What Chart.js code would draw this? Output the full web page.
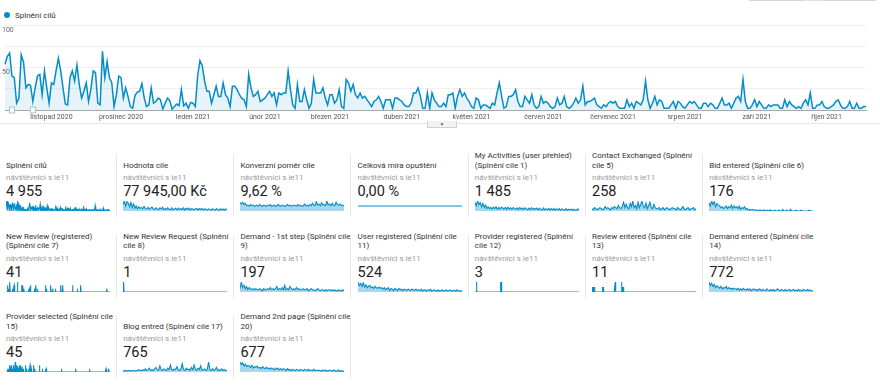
<!DOCTYPE html>
<html>
<head>
<meta charset="utf-8">
<script src="https://cdn.jsdelivr.net/npm/chart.js@4.4.1/dist/chart.umd.min.js"></script>
<style>
  body { margin: 0; width: 880px; height: 389px; overflow: hidden; background: #fff; font-family: Roboto, Arial, sans-serif; color: #222; position: relative; }
  #topbox { position: absolute; left: 748px; top: -19px; width: 129px; height: 20px; border: 1px solid #d6d6d6; border-radius: 2px; box-sizing: border-box; }
  #topbox .seg { position: absolute; left: 55px; top: 0; width: 20px; height: 19px; background: #e2e2e2; }
  #topbox .div { position: absolute; left: 104px; top: 0; width: 1px; height: 19px; background: #d6d6d6; }
  #legend { position: absolute; left: 4px; top: 10px; font-size: 8px; color: #333; line-height: 12px; white-space: nowrap; }
  #legend .dot { display: inline-block; width: 6px; height: 6px; border-radius: 50%; background: #058dc7; margin-right: 5px; vertical-align: 0; }
  #main { position: absolute; left: 0; top: 0; width: 880px; height: 124px; }
  #rule { position: absolute; left: 0; top: 123px; width: 880px; height: 1px; background: #e6e6e6; }
  #tab { position: absolute; left: 427px; top: 121px; width: 30px; height: 7px; background: #f3f3f3; border: 1px solid #d0d0d0; border-top: none; box-sizing: border-box; text-align: center; font-size: 5px; line-height: 6px; color: #666; }
  .tile { position: absolute; width: 111px; height: 66px; }
  .tile .t { position: absolute; left: 0; top: 0; width: 111px; height: 20px; display: flex; flex-direction: column; justify-content: flex-end; font-size: 8px; line-height: 9.5px; color: #333; white-space: nowrap; }
  .tile .s { position: absolute; left: 0; top: 23px; font-size: 8px; line-height: 10px; color: #9a9a9a; white-space: nowrap; }
  .tile .v { position: absolute; left: 0; top: 34px; font-size: 14.5px; line-height: 16px; color: #222; white-space: nowrap; }
  .tile .c { position: absolute; left: 0; top: 50px; width: 104px; height: 12px; }
  .sep { position: absolute; width: 1px; background: #e8e8e8; }
</style>
</head>
<body>
<div id="topbox"><div class="seg"></div><div class="div"></div></div>
<div id="legend"><span class="dot"></span>Splnění cílů</div>
<div id="main"><canvas id="mainChart"></canvas></div>
<div id="rule"></div>
<div id="tab">&#9660;</div>
<div id="tiles"></div>

<script>
// Splnění cílů po dnech (12. 10. 2020 - 18. 10. 2021)
const goalCompletions = [
  54, 63, 67, 40, 38, 8, 14, 65, 56, 26, 30, 29, 10, 26, 40, 42, 18, 46, 26, 8,
  32, 30, 46, 61, 46, 26, 7, 6, 38, 46, 34, 53, 30, 14, 22, 32, 10, 24, 46, 44,
  8, 6, 69, 38, 57, 38, 32, 4, 18, 40, 38, 14, 26, 16, 4, 2, 17, 21, 22, 31,
  14, 4, 6, 26, 8, 10, 14, 12, 1, 8, 14, 11, 1, 4, 7, 5, 24, 5, 8, 2,
  9, 8, 4, 40, 58, 52, 34, 22, 22, 8, 18, 28, 16,
  16, 32, 18, 14, 4, 28, 28, 24, 18, 14, 12, 4, 42, 26, 16, 18, 22, 10, 12, 14,
  18, 22, 16, 20, 6, 20, 18, 20, 20, 46, 24, 6, 2, 30, 10, 10, 24, 12, 2, 8,
  36, 20, 20, 20, 26, 14, 6, 18, 18, 8, 12, 24, 4, 2, 36, 32, 22, 30, 18, 14,
  20, 14, 16, 12, 8, 4, 10, 12, 16, 10, 2, 12, 12, 12, 2, 14, 14, 12, 10, 6,
  4, 4, 8, 20, 20, 26, 16, 2, 2, 20, 2, 20,
  12, 8, 4, 4, 8, 4, 18, 18, 20, 2, 16, 24, 16, 20, 14, 10, 4, 2, 14, 12,
  2, 6, 6, 4, 2, 8, 6, 20, 32, 16, 2, 4, 16, 16, 18, 24, 10, 4, 4, 16,
  12, 8, 18, 6, 2, 4, 16, 8, 10, 8, 4, 2, 4, 14, 6, 8, 16, 4, 2, 4,
  8, 14, 8, 12, 28, 6, 10, 10, 12, 14, 6, 4, 2, 6, 4, 8, 10, 8, 10, 4,
  2, 2, 2, 12, 4, 8, 2, 10, 8, 6, 12, 34,
  12, 2, 8, 16, 6, 12, 10, 2, 2, 2, 6, 10, 2, 10, 8, 4, 2, 6, 10, 8,
  10, 6, 2, 2, 8, 8, 4, 8, 6, 2, 2, 8, 14, 6, 6, 8, 2, 8, 14, 16,
  10, 36, 10, 2, 2, 6, 12, 4, 10, 6, 2, 2, 6, 4, 6, 6, 6, 2, 2, 12,
  4, 10, 6, 4, 2, 4, 2, 8, 12, 6, 20, 2, 2, 6, 6, 10, 4, 2, 2, 4,
  6, 10, 12, 6, 2, 2, 4, 10, 2, 2, 8, 2, 2, 4, 4,
];

const czMonths = ["leden", "únor", "březen", "duben", "květen", "červen", "červenec", "srpen", "září", "říjen", "listopad", "prosinec"];
const yLabels = [50, 100];
const annotationDays = [3, 12];

const days = goalCompletions.map((_, i) => new Date(2020, 9, 12 + i));
const dayLabels = days.map((d) => d.getDate() + ". " + (d.getMonth() + 1) + ". " + d.getFullYear());

// sparklines
const goalValue = [900, 1400, 700, 1300, 1100, 600, 1200, 500, 1000, 400, 700, 300, 600, 350, 500, 300, 650, 320, 280, 500,
  250, 400, 550, 280, 220, 450, 260, 200, 440, 280, 520, 180, 360, 200, 470, 210, 190, 440, 160, 300,
  380, 150, 410, 170, 340, 190, 460, 130, 380, 250, 400, 140, 320, 270, 150, 330, 360, 120, 340, 210,
  350, 130, 300, 240, 120, 310, 230, 100, 320, 190, 110, 330, 200, 90, 320, 150, 280, 110, 290, 200];
const conversionRate = [14, 12, 15, 11, 13, 9, 10, 8, 11, 9, 10, 8, 9, 10, 8, 11, 9, 8, 10, 9,
  8, 10, 9, 11, 8, 9, 10, 8, 9, 11, 9, 8, 10, 9, 8, 9, 11, 9, 10, 8,
  9, 10, 9, 8, 11, 9, 10, 8, 9, 12, 9, 10, 8, 11, 9, 13, 10, 9, 16, 10,
  12, 9, 14, 10, 11, 9, 17, 10, 12, 9, 13, 10, 9, 15, 11, 10, 12, 9, 10, 9];
const abandonRate = [0, 0, 0, 0, 0, 0, 0, 0, 0, 0];
const myActivities = [30, 18, 34, 22, 28, 14, 26, 12, 20, 9, 14, 8, 12, 7, 13, 8, 14, 6, 12, 7,
  13, 10, 7, 12, 6, 13, 7, 11, 6, 12, 8, 6, 11, 5, 12, 6, 10, 5, 11, 7,
  5, 10, 4, 11, 5, 9, 6, 10, 4, 9, 5, 3, 10, 4, 8, 4, 9, 3, 8, 3,
  9, 3, 7, 4, 8, 2, 7, 4, 2, 8, 2, 6, 3, 7, 2, 6, 3, 2, 7, 2];
const contactExchanged = [2, 1, 3, 2, 1, 2, 3, 2, 1, 2, 4, 2, 3, 2, 1, 3, 2, 4, 3, 2,
  5, 3, 2, 4, 8, 3, 6, 3, 2, 7, 4, 9, 3, 5, 2, 8, 3, 6, 9, 4,
  3, 7, 2, 5, 8, 3, 2, 6, 3, 2, 2, 3, 1, 2, 3, 1, 2, 3, 2, 1,
  2, 3, 2, 2, 1, 3, 2, 1, 2, 4, 2, 1, 2, 3, 1, 2, 2, 3, 1, 2];
const bidEntered = [10, 6, 12, 8, 11, 5, 9, 7, 6, 4, 5, 3, 4, 6, 3, 5, 4, 7, 3, 6,
  4, 5, 3, 6, 2, 4, 3, 5, 2, 3, 1, 2, 1, 2, 1, 1, 1, 0, 1, 1,
  0, 1, 1, 0, 1, 0, 1, 1, 0, 0, 1, 0, 0, 1, 0, 0, 2, 0, 0, 1,
  0, 0, 2, 0, 0, 0, 1, 0, 0, 0, 1, 0, 0, 0, 0, 0, 1, 0, 0, 0];
const demandFirstStep = [3, 9, 4, 6, 3, 5, 2, 4, 3, 2, 3, 2, 3, 2, 2, 3, 2, 1, 3, 2,
  2, 3, 2, 4, 2, 3, 2, 3, 5, 2, 3, 2, 4, 2, 6, 2, 3, 2, 5, 3,
  2, 3, 2, 4, 2, 3, 2, 2, 3, 2, 2, 3, 1, 2, 3, 2, 2, 1, 2, 3,
  2, 1, 2, 2, 1, 2, 1, 2, 2, 1, 2, 1, 2, 1, 1, 2, 1, 1, 2, 1];
const userRegistered = [14, 9, 12, 8, 13, 7, 10, 6, 8, 9, 6, 7, 5, 8, 6, 5, 7, 5, 6, 4,
  6, 3, 5, 6, 2, 5, 4, 2, 5, 4, 2, 5, 3, 4, 2, 4, 3, 2, 4, 3,
  2, 4, 3, 2, 4, 2, 3, 2, 4, 1, 3, 3, 1, 3, 2, 4, 1, 2, 3, 2,
  1, 3, 1, 2, 3, 1, 2, 3, 1, 2, 3, 1, 2, 2, 1, 3, 1, 2, 1, 2];
const demandEntered = [16, 10, 14, 9, 12, 7, 10, 8, 6, 9, 5, 7, 6, 9, 5, 7, 5, 6, 4, 6,
  5, 4, 6, 3, 5, 3, 6, 4, 3, 5, 3, 5, 2, 4, 5, 3, 4, 2, 5, 4,
  2, 4, 3, 2, 5, 3, 2, 4, 2, 4, 2, 3, 5, 3, 2, 4, 3, 2, 4, 2,
  3, 4, 2, 3, 4, 2, 3, 2, 4, 2, 3, 2, 4, 3, 2, 4, 2, 3, 2, 1];
const blogEntered = [2, 1, 2, 1, 2, 2, 1, 2, 2, 1, 2, 2, 3, 2, 2, 3, 2, 4, 2, 3,
  5, 2, 3, 2, 4, 6, 3, 2, 8, 3, 2, 4, 3, 2, 5, 3, 9, 3, 2, 4,
  3, 7, 3, 2, 4, 11, 3, 2, 5, 3, 4, 2, 6, 3, 9, 3, 2, 5, 3, 8,
  2, 3, 4, 2, 3, 13, 3, 2, 4, 2, 3, 6, 2, 3, 2, 4, 2, 3, 2, 2];
const demandSecondPage = [15, 11, 14, 9, 12, 8, 10, 9, 7, 10, 6, 8, 7, 9, 6, 7, 5, 8, 6, 5,
  7, 5, 6, 4, 6, 5, 3, 6, 4, 6, 3, 5, 3, 5, 4, 2, 5, 3, 4, 2,
  4, 3, 2, 4, 3, 2, 4, 3, 2, 4, 3, 2, 4, 2, 3, 2, 4, 2, 3, 2,
  3, 2, 1, 3, 2, 3, 1, 2, 3, 2, 1, 3, 2, 1, 2, 3, 1, 2, 1, 1];

// řídké cíle: [den, počet]
const newReviewDays = [[5, 2], [10, 1], [14, 3], [24, 1], [29, 2], [41, 3], [55, 2], [60, 2], [64, 1], [83, 1], [88, 2], [103, 1], [107, 2],
  [112, 1], [141, 2], [145, 1], [160, 2], [167, 1], [176, 1], [196, 2], [203, 2], [238, 2], [255, 1], [267, 2], [360, 1]];
const reviewRequestDays = [[3, 1]];
const providerRegisteredDays = [[5, 1], [92, 1], [93, 1]];
const reviewEnteredDays = [[2, 1], [5, 1], [8, 1], [38, 1], [40, 1], [83, 2], [105, 2], [108, 1], [111, 1]];
const providerSelectedDays = [[6, 1], [9, 1], [12, 2], [15, 1], [18, 1], [21, 2], [24, 1], [27, 2], [30, 1], [33, 3], [36, 2], [40, 1],
  [43, 1], [47, 1], [50, 2], [54, 1], [58, 1], [62, 1], [70, 2], [74, 1], [80, 1], [86, 2], [90, 1], [99, 2], [103, 1], [120, 2],
  [130, 1], [143, 1], [198, 1], [249, 1], [298, 1], [357, 1], [367, 1]];

function fromDays(pairs) {
  const arr = goalCompletions.map(() => 0);
  pairs.forEach((p) => { arr[p[0]] = p[1]; });
  return arr;
}

const tileTitles = [
  ["Splnění cílů"], ["Hodnota cíle"], ["Konverzní poměr cíle"], ["Celková míra opuštění"],
  ["My Activities (user přehled)", "(Splnění cíle 1)"], ["Contact Exchanged (Splnění", "cíle 5)"], ["Bid entered (Splnění cíle 6)"],
  ["New Review (registered)", "(Splnění cíle 7)"], ["New Review Request (Splnění", "cíle 8)"], ["Demand - 1st step (Splnění cíle", "9)"],
  ["User registered (Splnění cíle", "11)"], ["Provider registered (Splnění", "cíle 12)"], ["Review entered (Splnění cíle", "13)"],
  ["Demand entered (Splnění cíle", "14)"],
  ["Provider selected (Splnění cíle", "15)"], ["Blog entred (Splnění cíle 17)"], ["Demand 2nd page (Splnění cíle", "20)"],
];
const tileValues = ["4 955", "77 945,00 Kč", "9,62 %", "0,00 %", "1 485", "258", "176",
  "41", "1", "197", "524", "3", "11", "772", "45", "765", "677"];
const tileSeries = [goalCompletions, goalValue, conversionRate, abandonRate, myActivities, contactExchanged, bidEntered,
  fromDays(newReviewDays), fromDays(reviewRequestDays), demandFirstStep, userRegistered, fromDays(providerRegisteredDays),
  fromDays(reviewEnteredDays), demandEntered, fromDays(providerSelectedDays), blogEntered, demandSecondPage];
const segmentName = "návštěvníci s ie11";

// hlavní graf
const notesPlugin = {
  id: "notes",
  afterDatasetsDraw(chart) {
    const { ctx, scales } = chart;
    annotationDays.forEach((i) => {
      const px = scales.x.getPixelForValue(i);
      const py = scales.y.getPixelForValue(0);
      ctx.save();
      ctx.fillStyle = "#fff";
      ctx.strokeStyle = "#9fc3da";
      ctx.lineWidth = 1;
      ctx.fillRect(px - 2.5, py - 3, 5, 6);
      ctx.strokeRect(px - 2.5, py - 3, 5, 6);
      ctx.restore();
    });
  },
};

new Chart(document.getElementById("mainChart"), {
  type: "line",
  data: {
    labels: dayLabels,
    datasets: [
      {
        label: "Splnění cílů",
        data: goalCompletions,
        borderColor: "#058dc7",
        borderWidth: 1.5,
        backgroundColor: "rgba(5,141,199,0.1)",
        fill: "origin",
        pointRadius: 0,
        tension: 0,
      },
    ],
  },
  options: {
    responsive: true,
    maintainAspectRatio: false,
    animation: false,
    events: [],
    layout: { padding: { top: 25, left: 5, right: 14, bottom: 0 } },
    plugins: { legend: { display: false }, tooltip: { enabled: false } },
    scales: {
      x: {
        grid: { display: false, drawTicks: false, tickLength: 0 },
        border: { color: "#a8a8a8" },
        afterFit: function (scale) {
          scale.height = 14;
        },
        ticks: {
          autoSkip: false,
          maxRotation: 0,
          minRotation: 0,
          padding: 3,
          color: "#555",
          font: { size: 7, family: "Roboto" },
          callback: function (value, index) {
            const d = days[index];
            if (d.getDate() !== 1) return null;
            return czMonths[d.getMonth()] + " " + d.getFullYear();
          },
        },
      },
      y: {
        min: 0,
        max: 100,
        border: { display: false },
        grid: { color: "#efefef", drawTicks: false },
        afterFit: function (scale) {
          scale.width = 0;
        },
        ticks: {
          stepSize: 25,
          mirror: true,
          padding: -3,
          labelOffset: 5,
          color: "#666",
          font: { size: 7, family: "Roboto" },
          callback: function (value) {
            return yLabels.includes(value) ? value : "";
          },
        },
      },
    },
  },
  plugins: [notesPlugin],
});

// dlaždice
const tilesEl = document.getElementById("tiles");
const rowTops = [150, 230.5, 311];

tileTitles.forEach((title, i) => {
  const col = i < 14 ? i % 7 : i - 14;
  const row = i < 7 ? 0 : i < 14 ? 1 : 2;
  const tile = document.createElement("div");
  tile.className = "tile";
  tile.style.left = 6 + 117.2 * col + "px";
  tile.style.top = rowTops[row] + "px";
  tile.innerHTML =
    '<div class="t">' + title.map((l) => "<div>" + l + "</div>").join("") + "</div>" +
    '<div class="s">' + segmentName + "</div>" +
    '<div class="v">' + tileValues[i] + "</div>" +
    '<div class="c"><canvas></canvas></div>';
  tilesEl.appendChild(tile);

  const series = tileSeries[i];
  const flat = Math.max(...series) === 0;
  new Chart(tile.querySelector("canvas"), {
    type: "line",
    data: {
      labels: series.map((_, k) => k),
      datasets: [
        {
          data: series,
          borderColor: "#058dc7",
          borderWidth: 1.1,
          backgroundColor: "rgba(5,141,199,0.35)",
          fill: flat ? false : "origin",
          pointRadius: 0,
          tension: 0,
        },
      ],
    },
    options: {
      responsive: true,
      maintainAspectRatio: false,
      animation: false,
      events: [],
      layout: { padding: { top: 1, bottom: 1 } },
      plugins: { legend: { display: false }, tooltip: { enabled: false } },
      scales: {
        x: { display: false },
        y: { display: false, min: flat ? -1 : 0, max: flat ? 1 : Math.max(...series) },
      },
    },
  });
});

// oddělovače
rowTops.forEach((top, row) => {
  const count = row < 2 ? 6 : 3;
  for (let k = 0; k < count; k++) {
    const s = document.createElement("div");
    s.className = "sep";
    s.style.left = 116 + 117.2 * k + "px";
    s.style.top = top + 4 + "px";
    s.style.height = "63px";
    tilesEl.appendChild(s);
  }
});
</script>
</body>
</html>
